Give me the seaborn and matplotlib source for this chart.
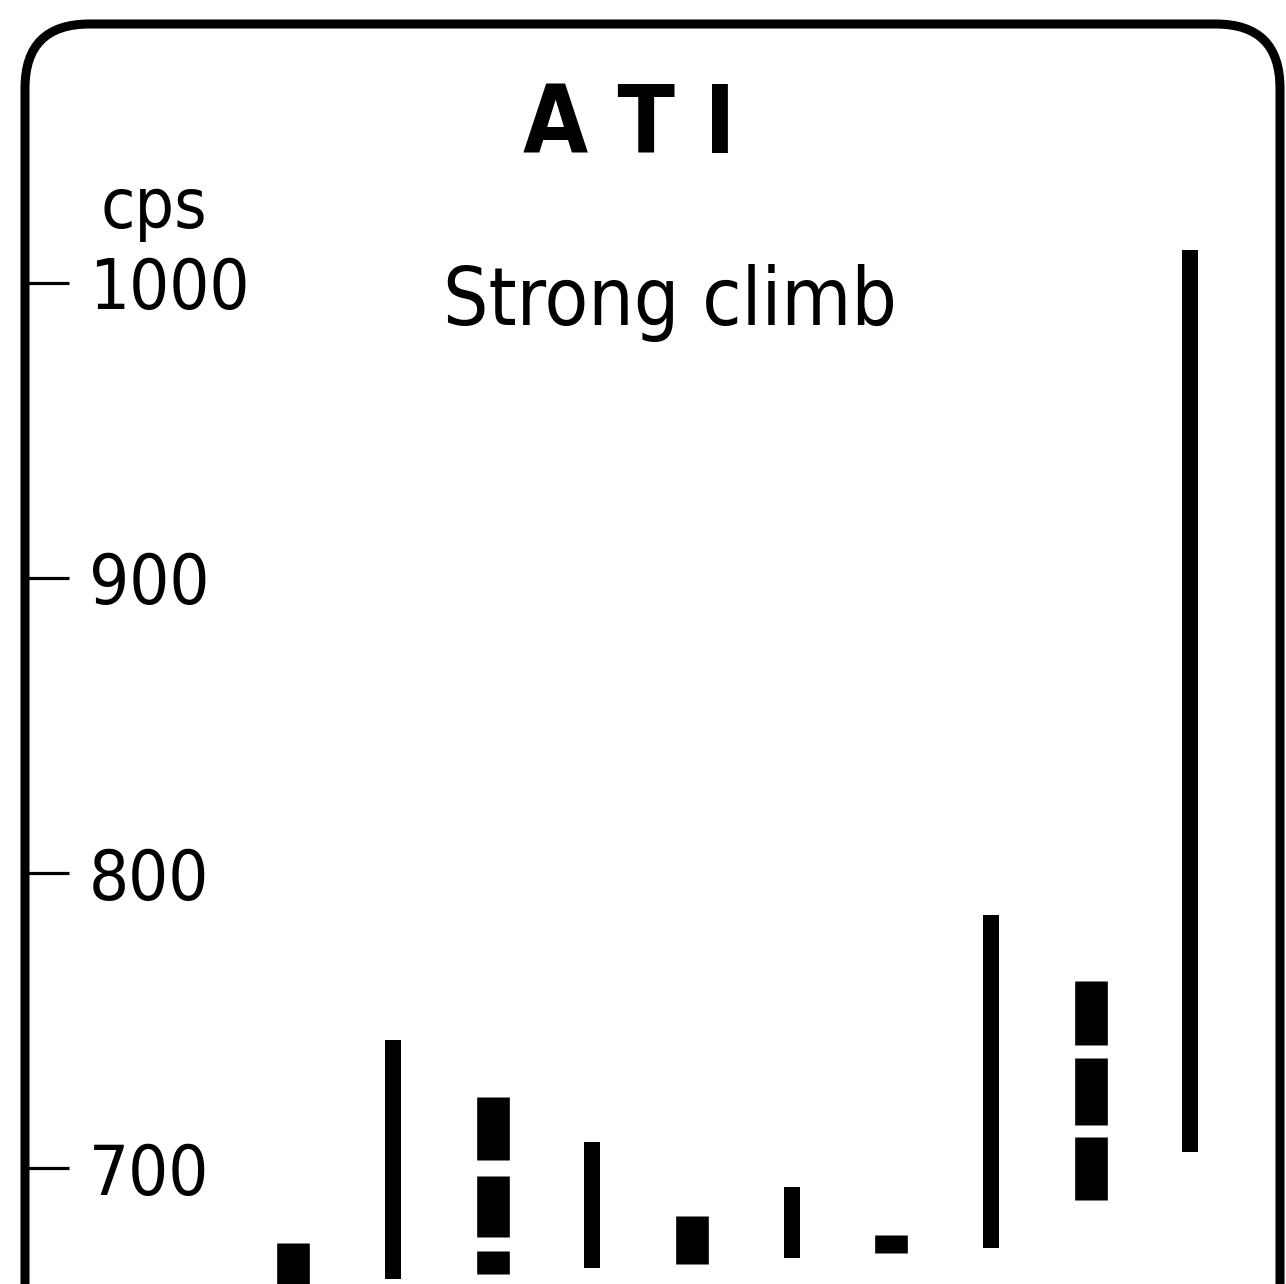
import matplotlib
matplotlib.use("Agg")
import matplotlib.pyplot as plt
import matplotlib.font_manager as fm
from matplotlib.patches import FancyBboxPatch
import numpy as np
import pandas as pd
import seaborn as sns

# ---- data ----
thin_cat = [2, 4, 6, 8, 10]
thin_low = [662.4, 666.1, 669.5, 672.9, 705.4]
thin_high = [743.4, 708.8, 693.6, 785.8, 1011.2]

block_cat = [1, 3, 3, 3, 5, 7, 9, 9, 9]
block_low = [650.0, 702.7, 676.6, 664.1, 667.5, 671.2, 689.2, 714.6, 741.7]
block_high = [674.6, 724.1, 697.3, 671.9, 683.7, 677.3, 710.5, 737.3, 763.4]

yticks = [700, 800, 900, 1000]
ytick_labels = ["700", "800", "900", "1000"]
title = "A T I"
subtitle = "Strong climb"
unit_label = "cps"


def to_long(cats, lows, highs):
    rows = []
    for k, (c, lo, hi) in enumerate(zip(cats, lows, highs)):
        rows.append({"seg": k, "x": c, "cps": lo})
        rows.append({"seg": k, "x": c, "cps": hi})
    return pd.DataFrame(rows)


thin_df = to_long(thin_cat, thin_low, thin_high)
block_df = to_long(block_cat, block_low, block_high)


# ---- pick the narrowest available sans font ----
def pick_font(bold):
    best = None
    for f in fm.fontManager.ttflist:
        n = f.fname.lower().replace("-", "").replace("_", "").replace(" ", "")
        if "italic" in n or "oblique" in n:
            continue
        isbold = ("bold" in n)
        if isbold != bold:
            continue
        if "liberationsansnarrow" in n:
            rank = 0
        elif "dejavusanscondensed" in n:
            rank = 1
        elif ("condensed" in n or "narrow" in n) and "mono" not in n and "serif" not in n:
            rank = 2
        elif "liberationsans" in n and "mono" not in n:
            rank = 3
        elif "roboto" in n and "mono" not in n and "slab" not in n:
            rank = 4
        else:
            continue
        if best is None or rank < best[0]:
            best = (rank, f.fname)
    if best is None:
        return fm.FontProperties(family="DejaVu Sans",
                                 weight="bold" if bold else "normal")
    return fm.FontProperties(fname=best[1])


fp_reg = pick_font(False)
fp_bold = pick_font(True)

sns.set_theme(style="white")
plt.rcParams["font.family"] = ["DejaVu Sans"]

W, H = 1286, 1284
fig = plt.figure(figsize=(W / 100, H / 100), dpi=100)
fig.patch.set_facecolor("white")

ax = fig.add_axes([25 / W, 0.0, (1281 - 25) / W, 1.0])
ax.set_facecolor("none")

sns.lineplot(data=thin_df, x="x", y="cps", units="seg", estimator=None,
             sort=False, color="black", lw=11.5, solid_capstyle="butt", ax=ax,
             legend=False)
sns.lineplot(data=block_df, x="x", y="cps", units="seg", estimator=None,
             sort=False, color="black", lw=23.5, solid_capstyle="butt", ax=ax,
             legend=False)

ax.set_xlim(-1.69, 10.91)
ax.set_ylim(660.7, 1095.9)
ax.set_xticks([])
ax.set_yticks(yticks)
ax.set_yticklabels(ytick_labels)
ax.set_xlabel("")
ax.set_ylabel("")
for s in ax.spines.values():
    s.set_visible(False)
ax.tick_params(axis="y", direction="in", length=32, width=2.3, color="black",
               pad=-46, labelcolor="black", left=True)

# rounded frame
frame = FancyBboxPatch((25 / W, -0.06), (1280 - 25) / W, (1 - 24 / H) + 0.06,
                       boxstyle="round,pad=0,rounding_size=0.05",
                       transform=fig.transFigure, fill=False, edgecolor="black",
                       linewidth=6.5, clip_on=False)
fig.patches.append(frame)

t_title = fig.text(629 / W, 1 - 153 / H, title, ha="center", va="baseline",
                   color="black")
t_title.set_fontproperties(fp_bold)
t_sub = fig.text(443 / W, 1 - 325 / H, subtitle, ha="left", va="baseline",
                 color="black")
t_sub.set_fontproperties(fp_reg)
t_cps = fig.text(100 / W, 1 - 228 / H, unit_label, ha="left", va="baseline",
                 color="black")
t_cps.set_fontproperties(fp_reg)

ticklabs = ax.get_yticklabels()
for lab in ticklabs:
    lab.set_fontproperties(fp_reg)
    lab.set_horizontalalignment("left")

# fit sizes: weighted mean of height-fit and width-fit sizes
renderer = fig.canvas.get_renderer()


def fit(texts, h_pt, target_w, wexp=0.65, probe=50):
    for t in texts:
        t.set_fontsize(probe)
    w = texts[0].get_window_extent(renderer).width
    w_pt = probe * target_w / w
    size = float(h_pt ** (1 - wexp) * w_pt ** wexp)
    for t in texts:
        t.set_fontsize(size)


fit([t_title], 71, 202, wexp=0.5)
fit([t_sub], 70, 417, wexp=0.7)
fit([t_cps], 58, 97, wexp=0.6)
# tick labels: fit on "1000"
fit([ticklabs[-1]] + ticklabs[:-1], 60, 140, wexp=0.55)

fig.savefig("out.png", dpi=100, facecolor="white")
